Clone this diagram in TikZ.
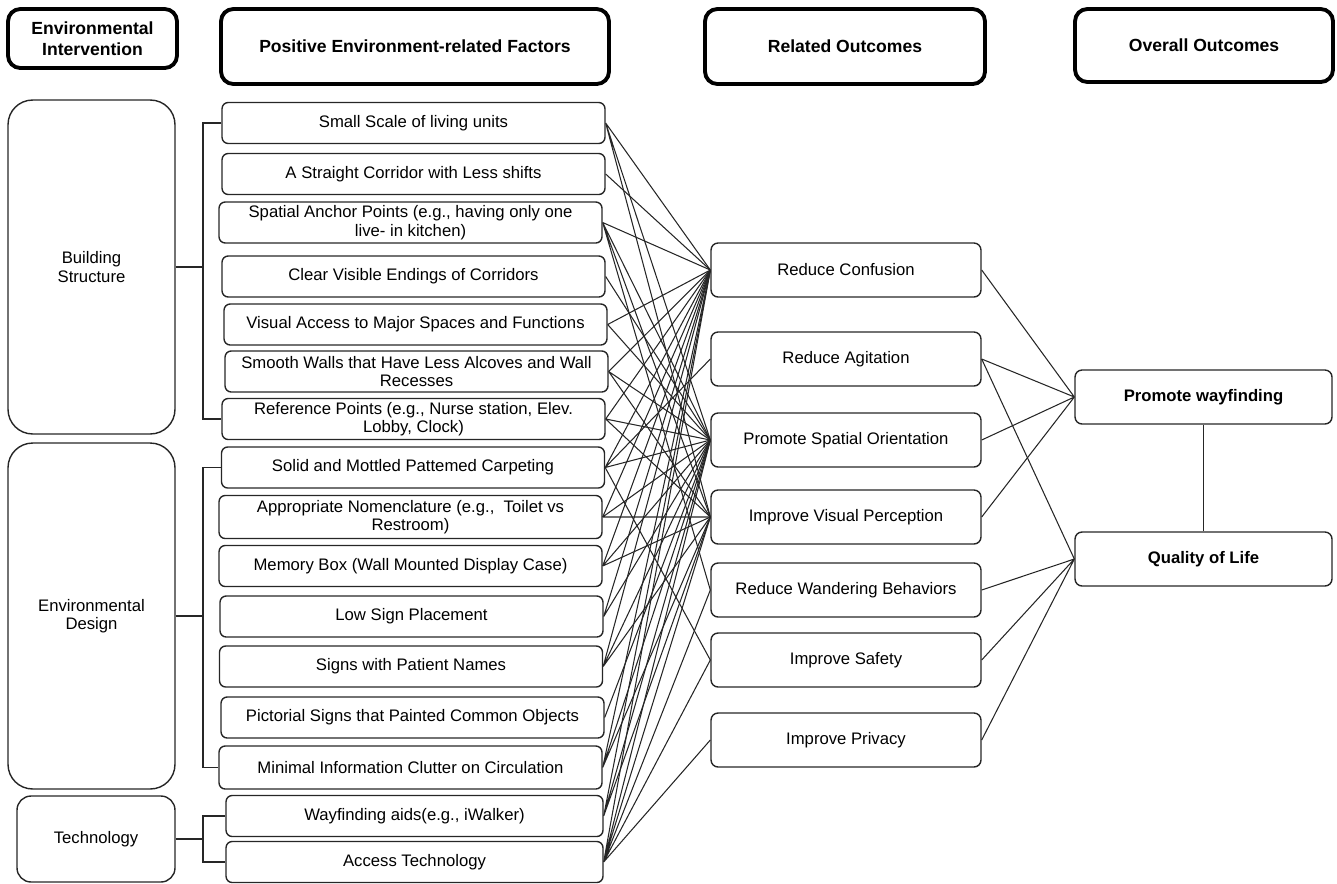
\documentclass[tikz,border=0pt]{standalone}
\usepackage{fontspec}
\setmainfont{Liberation Sans}
\usepackage{tikz}

\tikzset{
  headbox/.style={draw, line width=2.2pt, rounded corners=7pt, align=center, inner sep=0pt, font=\fontsize{10}{12}\selectfont\bfseries},
  groupbox/.style={draw=black!85, line width=0.8pt, rounded corners=14pt, align=center, inner sep=0pt, minimum width=3.34cm},
  factorbox/.style={draw=black!85, line width=0.8pt, rounded corners=3.5pt, align=center, inner sep=0pt, minimum width=7.66cm, minimum height=0.82cm},
  outbox/.style={draw=black!85, line width=0.8pt, rounded corners=4pt, inner sep=0pt, minimum width=5.4cm, minimum height=1.08cm},
  overallbox/.style={outbox, minimum width=5.14cm, font=\fontsize{9.5}{11}\selectfont\bfseries},
  link/.style={line width=0.6pt, black!85}
}

\begin{document}
\begin{tikzpicture}[x=0.02cm, y=-0.02cm, every node/.append style={font=\fontsize{9.5}{10.5}\selectfont}]
  \useasboundingbox (0,0) rectangle (1337,883);

  % headers
  \node[headbox, minimum width=3.38cm, minimum height=1.18cm] (intv) at (92.5,38.5) {Environmental\\Intervention};
  \node[headbox, minimum width=7.76cm, minimum height=1.5cm] (fact) at (415,46.5) {Positive Environment-related Factors};
  \node[headbox, minimum width=5.6cm, minimum height=1.5cm] (rel) at (845,46.5) {Related Outcomes};
  \node[headbox, minimum width=5.16cm, minimum height=1.46cm] (ovr) at (1204,45.5) {Overall Outcomes};

  % interventions
  \node[groupbox, minimum height=6.68cm] (bldg) at (91.5,267) {Building\\Structure};
  \node[groupbox, minimum height=6.92cm] (design) at (91.5,616) {Environmental\\Design};
  \node[groupbox, minimum width=3.16cm, minimum height=1.72cm, rounded corners=8pt] (tech) at (96,839) {Technology};

  % factors
  \node[factorbox] (f1) at (413.5,123) {Small Scale of living units};
  \node[factorbox] (f2) at (413.5,174) {A Straight Corridor with Less shifts};
  \node[factorbox] (f3) at (410.5,222.5) {Spatial Anchor Points (e.g., having only one\\live- in kitchen)};
  \node[factorbox] (f4) at (413.5,276.5) {Clear Visible Endings of Corridors};
  \node[factorbox] (f5) at (415.5,324.5) {Visual Access to Major Spaces and Functions};
  \node[factorbox] (f6) at (416.5,371.5) {Smooth Walls that Have Less Alcoves and Wall\\Recesses};
  \node[factorbox] (f7) at (413.5,419) {Reference Points (e.g., Nurse station, Elev.\\Lobby, Clock)};
  \node[factorbox] (f8) at (413,467.5) {Solid and Mottled Pattemed Carpeting};
  \node[factorbox, minimum height=0.86cm] (f9) at (410.5,517) {Appropriate Nomenclature (e.g.,~~Toilet vs\\Restroom)};
  \node[factorbox] (f10) at (410.5,566) {Memory Box (Wall Mounted Display Case)};
  \node[factorbox] (f11) at (411.5,616.5) {Low Sign Placement};
  \node[factorbox] (f12) at (411,666.5) {Signs with Patient Names};
  \node[factorbox] (f13) at (412.5,717.5) {Pictorial Signs that Painted Common Objects};
  \node[factorbox, minimum height=0.86cm] (f14) at (410.5,767.5) {Minimal Information Clutter on Circulation};
  \node[factorbox, minimum width=7.54cm] (f15) at (414.5,816) {Wayfinding aids(e.g., iWalker)};
  \node[factorbox, minimum width=7.54cm] (f16) at (414.5,862) {Access Technology};

  % related outcomes
  \node[outbox] (o1) at (846,270) {Reduce Confusion};
  \node[outbox] (o2) at (846,359) {Reduce Agitation};
  \node[outbox] (o3) at (846,440) {Promote Spatial Orientation};
  \node[outbox] (o4) at (846,517) {Improve Visual Perception};
  \node[outbox] (o5) at (846,590) {Reduce Wandering Behaviors};
  \node[outbox] (o6) at (846,660) {Improve Safety};
  \node[outbox] (o7) at (846,740) {Improve Privacy};

  % overall outcomes
  \node[overallbox] (wayf) at (1203.5,397) {Promote wayfinding};
  \node[overallbox] (qol) at (1203.5,559) {Quality of Life};

  % brackets
  \coordinate (bx) at (203,0);
  \draw[link] (bldg.east) -- (bldg.east -| bx);
  \draw[link] (f1.west) -- (f1.west -| bx) -- (f7.west -| bx) -- (f7.west);
  \draw[link] (design.east) -- (design.east -| bx);
  \draw[link] (f8.west) -- (f8.west -| bx) -- (f14.west -| bx) -- (f14.west);
  \draw[link] (tech.east) -- (tech.east -| bx);
  \draw[link] (f15.west) -- (f15.west -| bx) -- (f16.west -| bx) -- (f16.west);

  % factors to related outcomes
  \draw[link] (f1.east) -- (o1.west) (f1.east) -- (o3.west) (f1.east) -- (o4.west);
  \draw[link] (f2.east) -- (o1.west);
  \draw[link] (f3.east) -- (o1.west) (f3.east) -- (o3.west) (f3.east) -- (o4.west) (f3.east) -- (o5.west);
  \draw[link] (f4.east) -- (o3.west);
  \draw[link] (f5.east) -- (o1.west) (f5.east) -- (o3.west);
  \draw[link] (f6.east) -- (o1.west) (f6.east) -- (o3.west) (f6.east) -- (o4.west);
  \draw[link] (f7.east) -- (o1.west) (f7.east) -- (o3.west) (f7.east) -- (o4.west);
  \draw[link] (f8.east) -- (o1.west) (f8.east) -- (o2.west) (f8.east) -- (o3.west) (f8.east) -- (o6.west);
  \draw[link] (f9.east) -- (o1.west) (f9.east) -- (o3.west) (f9.east) -- (o4.west);
  \draw[link] (f10.east) -- (o1.west) (f10.east) -- (o3.west) (f10.east) -- (o4.west);
  \draw[link] (f11.east) -- (o1.west) (f11.east) -- (o3.west);
  \draw[link] (f12.east) -- (o1.west) (f12.east) -- (o3.west) (f12.east) -- (o4.west);
  \draw[link] (f13.east) -- (o3.west);
  \draw[link] (f14.east) -- (o1.west) (f14.east) -- (o3.west) (f14.east) -- (o4.west);
  \draw[link] (f15.east) -- (o1.west) (f15.east) -- (o3.west) (f15.east) -- (o4.west);
  \draw[link] (f16.east) -- (o1.west) (f16.east) -- (o3.west) (f16.east) -- (o4.west)
    (f16.east) -- (o5.west) (f16.east) -- (o6.west) (f16.east) -- (o7.west);

  % related to overall outcomes
  \draw[link] (o1.east) -- (wayf.west) (o2.east) -- (wayf.west) (o3.east) -- (wayf.west) (o4.east) -- (wayf.west);
  \draw[link] (o2.east) -- (qol.west) (o5.east) -- (qol.west) (o6.east) -- (qol.west) (o7.east) -- (qol.west);
  \draw[link] (wayf) -- (qol);
\end{tikzpicture}
\end{document}
